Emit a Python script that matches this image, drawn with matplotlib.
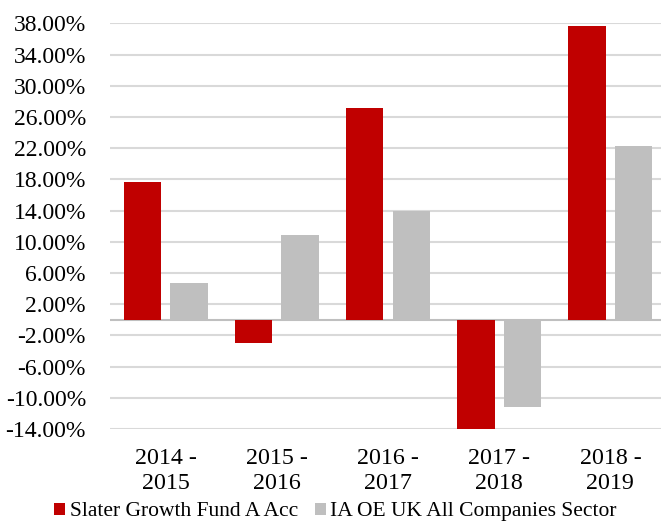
import numpy as np
import matplotlib
matplotlib.use("Agg")
from matplotlib import pyplot as plt

# Data (annual returns, %)
periods = ["2014 -\n2015", "2015 -\n2016", "2016 -\n2017", "2017 -\n2018", "2018 -\n2019"]
fund_returns = [17.7, -3.0, 27.2, -14.1, 37.6]
sector_returns = [4.7, 10.9, 14.0, -11.15, 22.3]
series_names = ["Slater Growth Fund A Acc", "IA OE UK All Companies Sector"]
y_ticks = list(range(-14, 39, 4))

plt.rcParams["font.family"] = ["Liberation Serif", "DejaVu Serif"]

fig = plt.figure(figsize=(6.61, 5.21), dpi=100)
ax = fig.add_axes([110 / 661, 92 / 521, 556 / 661, 405.7 / 521])

x = np.arange(len(periods))
bar_w = 0.337
ax.bar(x - 0.21, fund_returns, width=bar_w, color="#C00000", label=series_names[0], zorder=3)
ax.bar(x + 0.21, sector_returns, width=bar_w, color="#BFBFBF", label=series_names[1], zorder=3)

ax.set_xlim(-0.5, len(periods) - 0.5)
ax.set_ylim(-14, 38)
ax.set_yticks(y_ticks)
ax.set_yticklabels([f"{t:.2f}%" for t in y_ticks])
ax.set_xticks(x)
ax.set_xticklabels(periods, linespacing=1.2)

ax.grid(axis="y", color="#D9D9D9", linewidth=1.5, zorder=0)
ax.axhline(0, color="#BFBFBF", linewidth=1.5, zorder=2)
for s in ax.spines.values():
    s.set_visible(False)
ax.tick_params(axis="y", length=0, pad=17.3, labelsize=17)
ax.tick_params(axis="x", length=0, pad=14, labelsize=17.3)

fig.legend(loc="lower center", bbox_to_anchor=(335.5 / 661, -0.005), ncol=2, frameon=False,
           fontsize=15.5, handlelength=0.52, handleheight=0.52, handletextpad=0.2,
           columnspacing=0.8, borderaxespad=0, borderpad=0.1)

fig.savefig("out.png", dpi=100)
